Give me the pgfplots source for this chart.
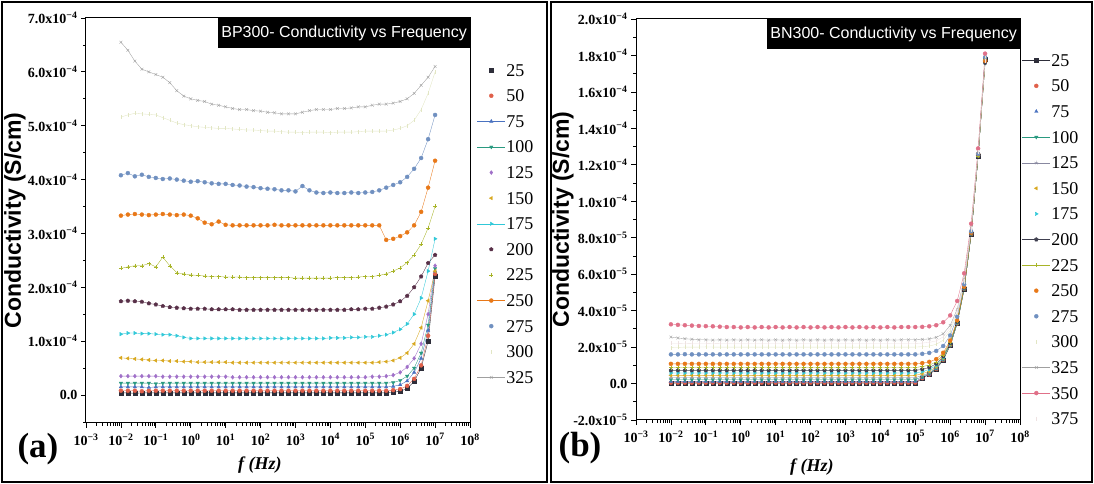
\documentclass[border=0pt]{standalone}
\usepackage{fontspec}
\setmainfont{Liberation Serif}
\newfontfamily\arial{Liberation Sans}
\usepackage{pgfplots}
\usepackage{pgfplotstable}
\pgfplotsset{compat=1.18}

% series colours
\definecolor{c25}{HTML}{2E2E3A}
\definecolor{c50}{HTML}{E0604A}
\definecolor{c75}{HTML}{4A72C0}
\definecolor{c100}{HTML}{2A9A80}
\definecolor{c125}{HTML}{A070C8}
\definecolor{cb125}{HTML}{8888A0}
\definecolor{c150}{HTML}{D8A820}
\definecolor{c175}{HTML}{30C8D8}
\definecolor{c200}{HTML}{583048}
\definecolor{cb200}{HTML}{404050}
\definecolor{c225}{HTML}{A8B428}
\definecolor{c250}{HTML}{E87818}
\definecolor{c275}{HTML}{7090C0}
\definecolor{c300}{HTML}{E2E6C4}
\definecolor{c325}{HTML}{A0A0A0}
\definecolor{c350}{HTML}{E07088}
\definecolor{c375}{HTML}{EEE2E2}

% BP300: conductivity in units of 1e-4 S/cm
\pgfplotstableread{
f a25 a50 a75 a100 a125 a150 a175 a200 a225 a250 a275 a300 a325
1e-2 0.04 0.08 0.15 0.22 0.35 0.69 1.13 1.74 2.35 3.33 4.08 5.16 6.55
1.585e-2 0.04 0.08 0.15 0.22 0.35 0.68 1.15 1.75 2.38 3.35 4.12 5.20 6.40
2.512e-2 0.03 0.08 0.15 0.22 0.35 0.67 1.15 1.74 2.40 3.36 4.06 5.23 6.20
3.981e-2 0.04 0.07 0.15 0.22 0.35 0.66 1.14 1.73 2.40 3.35 4.09 5.22 6.05
6.310e-2 0.04 0.08 0.14 0.22 0.35 0.65 1.14 1.70 2.44 3.34 4.05 5.21 6.00
1e-1 0.04 0.08 0.15 0.21 0.35 0.64 1.13 1.68 2.38 3.35 4.03 5.20 5.95
1.585e-1 0.04 0.08 0.15 0.22 0.34 0.64 1.12 1.65 2.56 3.36 4.01 5.15 5.90
2.512e-1 0.04 0.08 0.15 0.22 0.34 0.63 1.12 1.63 2.40 3.35 4.02 5.10 5.80
3.981e-1 0.04 0.08 0.15 0.22 0.34 0.63 1.10 1.62 2.27 3.34 4.00 5.05 5.65
6.310e-1 0.04 0.08 0.15 0.22 0.34 0.62 1.07 1.61 2.25 3.35 3.98 5.02 5.55
1 0.04 0.08 0.15 0.22 0.34 0.62 1.05 1.60 2.23 3.33 3.96 5.00 5.50
1.585 0.04 0.08 0.15 0.22 0.34 0.61 1.05 1.60 2.22 3.28 3.97 4.98 5.47
2.512 0.04 0.08 0.15 0.22 0.34 0.61 1.05 1.60 2.21 3.20 3.95 4.97 5.45
3.981 0.04 0.08 0.15 0.22 0.34 0.61 1.05 1.59 2.20 3.17 3.93 4.96 5.40
6.310 0.04 0.08 0.15 0.22 0.34 0.61 1.05 1.59 2.20 3.22 3.92 4.95 5.38
10 0.04 0.08 0.15 0.22 0.34 0.61 1.05 1.59 2.19 3.16 3.92 4.95 5.35
15.85 0.04 0.08 0.15 0.22 0.33 0.60 1.05 1.59 2.19 3.15 3.90 4.94 5.32
25.12 0.04 0.08 0.15 0.22 0.33 0.60 1.05 1.58 2.19 3.15 3.89 4.93 5.30
39.81 0.04 0.08 0.15 0.22 0.33 0.60 1.05 1.58 2.18 3.15 3.87 4.92 5.30
63.10 0.04 0.08 0.15 0.22 0.33 0.60 1.05 1.58 2.18 3.15 3.86 4.92 5.28
100 0.04 0.08 0.15 0.22 0.33 0.60 1.05 1.58 2.18 3.15 3.84 4.91 5.27
158.5 0.04 0.08 0.15 0.22 0.33 0.60 1.05 1.58 2.18 3.15 3.83 4.90 5.25
251.2 0.04 0.08 0.15 0.22 0.33 0.60 1.05 1.58 2.18 3.16 3.82 4.90 5.24
398.1 0.04 0.08 0.15 0.22 0.33 0.60 1.05 1.58 2.18 3.15 3.80 4.89 5.22
631.0 0.04 0.08 0.15 0.22 0.33 0.60 1.05 1.58 2.18 3.15 3.80 4.88 5.22
1000 0.04 0.08 0.15 0.22 0.33 0.60 1.05 1.58 2.17 3.15 3.78 4.88 5.22
1585 0.04 0.08 0.15 0.22 0.33 0.60 1.05 1.58 2.17 3.15 3.88 4.87 5.25
2512 0.04 0.08 0.15 0.22 0.33 0.60 1.05 1.58 2.17 3.15 3.80 4.88 5.28
3981 0.04 0.08 0.15 0.22 0.33 0.60 1.05 1.58 2.17 3.15 3.76 4.88 5.30
6310 0.04 0.08 0.15 0.22 0.33 0.60 1.05 1.58 2.17 3.15 3.75 4.88 5.30
10000 0.04 0.08 0.15 0.22 0.33 0.60 1.06 1.58 2.17 3.15 3.76 4.87 5.30
15849 0.04 0.08 0.15 0.22 0.33 0.60 1.06 1.58 2.18 3.15 3.75 4.88 5.32
25119 0.04 0.08 0.15 0.22 0.33 0.60 1.06 1.58 2.18 3.15 3.75 4.88 5.32
39811 0.04 0.08 0.15 0.22 0.33 0.60 1.07 1.59 2.18 3.15 3.76 4.88 5.33
63096 0.04 0.08 0.15 0.22 0.33 0.60 1.07 1.59 2.19 3.15 3.75 4.89 5.35
1e5 0.04 0.08 0.15 0.22 0.33 0.60 1.08 1.60 2.20 3.15 3.76 4.90 5.35
1.585e5 0.04 0.08 0.15 0.22 0.34 0.60 1.08 1.60 2.20 3.15 3.77 4.90 5.38
2.512e5 0.04 0.08 0.15 0.22 0.34 0.61 1.10 1.62 2.22 3.15 3.80 4.90 5.40
3.981e5 0.04 0.08 0.15 0.22 0.35 0.62 1.12 1.64 2.25 2.88 3.85 4.90 5.40
6.310e5 0.05 0.09 0.16 0.23 0.37 0.64 1.16 1.68 2.30 2.90 3.90 4.92 5.42
1e6 0.07 0.11 0.19 0.27 0.42 0.69 1.22 1.74 2.36 2.95 3.95 4.95 5.45
1.585e6 0.12 0.17 0.26 0.35 0.52 0.78 1.32 1.84 2.46 3.02 4.05 5.00 5.50
2.512e6 0.25 0.30 0.42 0.50 0.68 0.95 1.50 2.00 2.60 3.15 4.20 5.10 5.60
3.981e6 0.50 0.55 0.68 0.78 0.95 1.25 1.80 2.20 2.80 3.40 4.40 5.30 5.75
6.310e6 1.00 1.10 1.20 1.30 1.50 1.75 2.30 2.45 3.10 3.85 4.75 5.60 5.90
1e7 2.20 2.25 2.30 2.35 2.40 2.30 2.90 2.60 3.50 4.35 5.20 6.00 6.10
}\tabA

% BN300: conductivity in units of 1e-5 S/cm
\pgfplotstableread{
f b25 b50 b75 b100 b125 b150 b175 b200 b225 b250 b275 b300 b325 b350 b375
1e-2 0.00 0.05 0.12 0.22 0.32 0.45 0.58 0.72 0.88 1.08 1.60 1.97 2.55 3.25 2.20
1.585e-2 0.00 0.05 0.12 0.22 0.32 0.45 0.58 0.72 0.88 1.08 1.60 1.98 2.50 3.22 2.20
2.512e-2 0.00 0.05 0.12 0.22 0.32 0.45 0.58 0.72 0.88 1.08 1.61 2.00 2.46 3.20 2.21
3.981e-2 0.00 0.05 0.12 0.22 0.32 0.45 0.58 0.72 0.88 1.08 1.60 2.00 2.43 3.18 2.20
6.310e-2 0.00 0.05 0.12 0.22 0.32 0.45 0.58 0.72 0.88 1.08 1.60 2.00 2.40 3.16 2.20
1e-1 0.00 0.05 0.12 0.22 0.32 0.45 0.58 0.72 0.88 1.08 1.60 2.01 2.40 3.15 2.20
1.585e-1 0.00 0.05 0.12 0.22 0.32 0.45 0.58 0.72 0.88 1.08 1.60 2.00 2.38 3.14 2.21
2.512e-1 0.00 0.05 0.12 0.22 0.32 0.45 0.58 0.72 0.88 1.08 1.60 2.00 2.40 3.12 2.20
3.981e-1 0.00 0.05 0.12 0.22 0.32 0.45 0.58 0.72 0.88 1.08 1.60 2.00 2.38 3.10 2.20
6.310e-1 0.00 0.05 0.12 0.22 0.32 0.45 0.58 0.72 0.88 1.08 1.60 2.00 2.40 3.10 2.20
1 0.00 0.05 0.12 0.22 0.32 0.45 0.58 0.72 0.88 1.08 1.60 2.00 2.38 3.08 2.20
1.585 0.00 0.05 0.12 0.22 0.32 0.45 0.58 0.72 0.88 1.08 1.60 2.00 2.40 3.10 2.20
2.512 0.00 0.05 0.12 0.22 0.32 0.45 0.58 0.72 0.88 1.08 1.60 2.00 2.38 3.08 2.20
3.981 0.00 0.05 0.12 0.22 0.32 0.45 0.58 0.72 0.88 1.08 1.60 2.00 2.40 3.10 2.20
6.310 0.00 0.05 0.12 0.22 0.32 0.45 0.58 0.72 0.88 1.08 1.60 2.00 2.38 3.08 2.20
10 0.00 0.05 0.12 0.22 0.32 0.45 0.58 0.72 0.88 1.08 1.60 2.00 2.40 3.10 2.20
15.85 0.00 0.05 0.12 0.22 0.32 0.45 0.58 0.72 0.88 1.08 1.60 2.00 2.38 3.08 2.20
25.12 0.00 0.05 0.12 0.22 0.32 0.45 0.58 0.72 0.88 1.08 1.60 2.00 2.40 3.10 2.20
39.81 0.00 0.05 0.12 0.22 0.32 0.45 0.58 0.72 0.88 1.08 1.60 2.00 2.38 3.08 2.20
63.10 0.00 0.05 0.12 0.22 0.32 0.45 0.58 0.72 0.88 1.08 1.60 2.00 2.40 3.10 2.20
100 0.00 0.05 0.12 0.22 0.32 0.45 0.58 0.72 0.88 1.08 1.60 2.00 2.38 3.08 2.20
158.5 0.00 0.05 0.12 0.22 0.32 0.45 0.58 0.72 0.88 1.08 1.60 2.00 2.40 3.10 2.20
251.2 0.00 0.05 0.12 0.22 0.32 0.45 0.58 0.72 0.88 1.08 1.60 2.00 2.38 3.08 2.20
398.1 0.00 0.05 0.12 0.22 0.32 0.45 0.58 0.72 0.88 1.08 1.60 2.00 2.40 3.10 2.20
631.0 0.00 0.05 0.12 0.22 0.32 0.45 0.58 0.72 0.88 1.08 1.60 2.00 2.38 3.08 2.20
1000 0.00 0.05 0.12 0.22 0.32 0.45 0.58 0.72 0.88 1.08 1.60 2.00 2.40 3.10 2.20
1585 0.00 0.05 0.12 0.22 0.32 0.45 0.58 0.72 0.88 1.08 1.60 2.00 2.38 3.08 2.20
2512 0.00 0.05 0.12 0.22 0.32 0.45 0.58 0.72 0.88 1.08 1.60 2.00 2.40 3.10 2.20
3981 0.00 0.05 0.12 0.22 0.32 0.45 0.58 0.72 0.88 1.08 1.60 2.00 2.38 3.08 2.20
6310 0.00 0.05 0.12 0.22 0.32 0.45 0.58 0.72 0.88 1.08 1.60 2.00 2.40 3.10 2.20
10000 0.00 0.05 0.12 0.22 0.32 0.45 0.58 0.72 0.88 1.08 1.60 2.00 2.38 3.08 2.20
15849 0.00 0.05 0.12 0.22 0.32 0.45 0.58 0.72 0.88 1.08 1.60 2.00 2.40 3.10 2.20
25119 0.00 0.05 0.12 0.22 0.32 0.45 0.58 0.72 0.88 1.08 1.60 2.00 2.38 3.08 2.20
39811 0.00 0.05 0.12 0.22 0.32 0.45 0.58 0.72 0.88 1.08 1.60 2.00 2.40 3.10 2.20
63096 0.00 0.05 0.12 0.22 0.32 0.45 0.58 0.72 0.88 1.08 1.60 2.00 2.40 3.10 2.20
1e5 0.00 0.05 0.12 0.22 0.32 0.45 0.58 0.72 0.88 1.08 1.60 2.00 2.40 3.10 2.20
1.585e5 0.30 0.30 0.32 0.37 0.44 0.54 0.65 0.78 0.93 1.12 1.63 2.02 2.42 3.11 2.22
2.512e5 0.50 0.50 0.51 0.55 0.59 0.67 0.77 0.88 1.01 1.19 1.68 2.06 2.45 3.14 2.26
3.981e5 0.80 0.80 0.81 0.83 0.86 0.92 0.99 1.08 1.19 1.34 1.79 2.15 2.53 3.20 2.34
6.310e5 1.30 1.30 1.31 1.32 1.34 1.38 1.42 1.49 1.57 1.69 2.06 2.38 2.73 3.36 2.56
1e6 2.10 2.10 2.10 2.11 2.12 2.15 2.18 2.22 2.28 2.36 2.64 2.90 3.19 3.74 3.04
1.585e6 3.30 3.30 3.30 3.31 3.32 3.33 3.35 3.38 3.42 3.47 3.67 3.86 4.08 4.53 3.97
2.512e6 5.20 5.20 5.20 5.20 5.21 5.22 5.23 5.25 5.27 5.31 5.44 5.57 5.73 6.05 5.65
3.981e6 8.20 8.20 8.20 8.20 8.21 8.21 8.22 8.23 8.25 8.27 8.35 8.44 8.54 8.77 8.49
6.310e6 12.5 12.5 12.5 12.5 12.5 12.5 12.5 12.5 12.5 12.6 12.6 12.7 12.7 12.9 12.7
1e7 17.8 17.7 17.8 17.6 17.9 17.7 17.8 17.6 17.8 17.7 17.9 17.9 17.8 18.1 17.7
}\tabB

% marker styles of the temperature series
\tikzset{
  s25/.style={color=c25, mark=square*, mark options={solid, fill=c25}},
  s50/.style={color=c50, mark=*, mark options={solid, fill=c50}},
  s75/.style={color=c75, mark=triangle*, mark options={solid, fill=c75}},
  s100/.style={color=c100, mark=triangle*, mark options={solid, fill=c100, rotate=180}},
  s125/.style={color=c125, mark=diamond*, mark options={solid, fill=c125}},
  sb125/.style={color=cb125, mark=star, mark options={solid}},
  s150/.style={color=c150, mark=triangle*, mark options={solid, fill=c150, rotate=90}},
  s175/.style={color=c175, mark=triangle*, mark options={solid, fill=c175, rotate=-90}},
  s200/.style={color=c200, mark=pentagon*, mark options={solid, fill=c200}},
  sb200/.style={color=cb200, mark=pentagon*, mark options={solid, fill=cb200}},
  s225/.style={color=c225, mark=+, mark options={solid}},
  s250/.style={color=c250, mark=*, mark options={solid, fill=c250}},
  s275/.style={color=c275, mark=*, mark options={solid, fill=c275}},
  s300/.style={color=c300, mark=|, mark options={solid}},
  s325/.style={color=c325, mark=x, mark options={solid}},
  s350/.style={color=c350, mark=*, mark options={solid, fill=c350}},
  s375/.style={color=c375, mark=|, mark options={solid}},
}
% tick label text in bold serif, boxed so it is always set in text mode
\newcommand{\tl}[1]{\mbox{\bfseries\fontsize{14}{16}\selectfont #1}}

\begin{document}
\begin{tikzpicture}
\useasboundingbox (0pt,0pt) rectangle (1094pt,484pt);
\draw[line width=1.5pt] (2pt,2pt) rectangle (547pt,482pt);
\draw[line width=1.5pt] (551pt,2pt) rectangle (1092pt,482pt);

% ---------- (a) BP300 ----------
\begin{axis}[
  scale only axis, xmode=log, xmin=1e-3, xmax=1e8,
  xtick={1e-3,1e-2,1e-1,1,10,100,1e3,1e4,1e5,1e6,1e7,1e8},
  xticklabels={\tl{10\textsuperscript{−3}},\tl{10\textsuperscript{−2}},\tl{10\textsuperscript{−1}},\tl{10\textsuperscript{0}},\tl{10\textsuperscript{1}},\tl{10\textsuperscript{2}},\tl{10\textsuperscript{3}},\tl{10\textsuperscript{4}},\tl{10\textsuperscript{5}},\tl{10\textsuperscript{6}},\tl{10\textsuperscript{7}},\tl{10\textsuperscript{8}}},
  minor xtick={2e-3,3e-3,4e-3,5e-3,6e-3,7e-3,8e-3,9e-3,2e-2,3e-2,4e-2,5e-2,6e-2,7e-2,8e-2,9e-2,2e-1,3e-1,4e-1,5e-1,6e-1,7e-1,8e-1,9e-1,2,3,4,5,6,7,8,9,20,30,40,50,60,70,80,90,200,300,400,500,600,700,800,900,2e3,3e3,4e3,5e3,6e3,7e3,8e3,9e3,2e4,3e4,4e4,5e4,6e4,7e4,8e4,9e4,2e5,3e5,4e5,5e5,6e5,7e5,8e5,9e5,2e6,3e6,4e6,5e6,6e6,7e6,8e6,9e6,2e7,3e7,4e7,5e7,6e7,7e7,8e7,9e7},
  axis line style={line width=1pt},
  tick align=outside, xtick pos=bottom, ytick pos=left,
  major tick length=5pt, minor tick length=3pt,
  tick style={line width=0.8pt, black},
  xticklabel style={yshift=-2pt},
  every axis plot/.append style={line width=0.35pt, mark size=2pt},
  legend cell align=left,
  legend image code/.code={\draw[mark repeat=2,mark phase=2] plot coordinates {(0pt,0pt)(14pt,0pt)(28pt,0pt)};},
  legend style={draw=none, fill=none, inner sep=0pt, row sep=11.6pt,
    font=\fontsize{18}{20}\selectfont,
    nodes={inner sep=1pt, text height=12pt, text depth=0pt},
    at={(1.018,0.889)}, anchor=north west},
  xlabel style={font=\bfseries\itshape\fontsize{18}{20}\selectfont, anchor=center, at={(axis description cs:0.453,-0.104)}},
  ylabel style={font=\arial\bfseries\fontsize{23}{25}\selectfont, anchor=center, at={(axis description cs:-0.185,0.5)}},
  at={(86pt,61pt)}, anchor=south west, width=384pt, height=405pt,
  ymin=-0.52, ymax=7,
  ytick={0,1,2,3,4,5,6,7},
  yticklabels={\tl{0.0},\tl{1.0x10\textsuperscript{−4}},\tl{2.0x10\textsuperscript{−4}},\tl{3.0x10\textsuperscript{−4}},\tl{4.0x10\textsuperscript{−4}},\tl{5.0x10\textsuperscript{−4}},\tl{6.0x10\textsuperscript{−4}},\tl{7.0x10\textsuperscript{−4}}},
  minor ytick={-0.5,0.5,1.5,2.5,3.5,4.5,5.5,6.5},
  xlabel={f (Hz)},
  ylabel={Conductivity (S/cm)},
]
\addplot[s25, forget plot] table[x=f,y=a25] {\tabA};
\addplot[s50, forget plot] table[x=f,y=a50] {\tabA};
\addplot[s75, forget plot] table[x=f,y=a75] {\tabA};
\addplot[s100, forget plot] table[x=f,y=a100] {\tabA};
\addplot[s125, forget plot] table[x=f,y=a125] {\tabA};
\addplot[s150, forget plot] table[x=f,y=a150] {\tabA};
\addplot[s175, forget plot] table[x=f,y=a175] {\tabA};
\addplot[s200, forget plot] table[x=f,y=a200] {\tabA};
\addplot[s225, forget plot] table[x=f,y=a225] {\tabA};
\addplot[s250, forget plot] table[x=f,y=a250] {\tabA};
\addplot[s275, forget plot] table[x=f,y=a275] {\tabA};
\addplot[s300, forget plot] table[x=f,y=a300] {\tabA};
\addplot[s325, forget plot] table[x=f,y=a325] {\tabA};
\addlegendimage{s25, only marks}\addlegendentry{25}
\addlegendimage{s50, only marks}\addlegendentry{50}
\addlegendimage{s75}\addlegendentry{75}
\addlegendimage{s100}\addlegendentry{100}
\addlegendimage{s125, only marks}\addlegendentry{125}
\addlegendimage{s150, only marks}\addlegendentry{150}
\addlegendimage{s175}\addlegendentry{175}
\addlegendimage{s200, only marks}\addlegendentry{200}
\addlegendimage{s225, only marks}\addlegendentry{225}
\addlegendimage{s250}\addlegendentry{250}
\addlegendimage{s275, only marks}\addlegendentry{275}
\addlegendimage{s300, only marks}\addlegendentry{300}
\addlegendimage{s325}\addlegendentry{325}
\node[anchor=north east, fill=black, text=white, inner xsep=3pt, minimum height=30pt,
  font=\arial\fontsize{16}{18}\selectfont] at (rel axis cs:1,1) {BP300- Conductivity vs Frequency};
\end{axis}
\node[font=\bfseries\fontsize{35}{38}\selectfont] at (38pt,35pt) {(a)};

% ---------- (b) BN300 ----------
\begin{axis}[
  scale only axis, xmode=log, xmin=1e-3, xmax=1e8,
  xtick={1e-3,1e-2,1e-1,1,10,100,1e3,1e4,1e5,1e6,1e7,1e8},
  xticklabels={\tl{10\textsuperscript{−3}},\tl{10\textsuperscript{−2}},\tl{10\textsuperscript{−1}},\tl{10\textsuperscript{0}},\tl{10\textsuperscript{1}},\tl{10\textsuperscript{2}},\tl{10\textsuperscript{3}},\tl{10\textsuperscript{4}},\tl{10\textsuperscript{5}},\tl{10\textsuperscript{6}},\tl{10\textsuperscript{7}},\tl{10\textsuperscript{8}}},
  minor xtick={2e-3,3e-3,4e-3,5e-3,6e-3,7e-3,8e-3,9e-3,2e-2,3e-2,4e-2,5e-2,6e-2,7e-2,8e-2,9e-2,2e-1,3e-1,4e-1,5e-1,6e-1,7e-1,8e-1,9e-1,2,3,4,5,6,7,8,9,20,30,40,50,60,70,80,90,200,300,400,500,600,700,800,900,2e3,3e3,4e3,5e3,6e3,7e3,8e3,9e3,2e4,3e4,4e4,5e4,6e4,7e4,8e4,9e4,2e5,3e5,4e5,5e5,6e5,7e5,8e5,9e5,2e6,3e6,4e6,5e6,6e6,7e6,8e6,9e6,2e7,3e7,4e7,5e7,6e7,7e7,8e7,9e7},
  axis line style={line width=1pt},
  tick align=outside, xtick pos=bottom, ytick pos=left,
  major tick length=5pt, minor tick length=3pt,
  tick style={line width=0.8pt, black},
  xticklabel style={yshift=-2pt},
  every axis plot/.append style={line width=0.35pt, mark size=2pt},
  legend cell align=left,
  legend image code/.code={\draw[mark repeat=2,mark phase=2] plot coordinates {(0pt,0pt)(14pt,0pt)(28pt,0pt)};},
  legend style={draw=none, fill=none, inner sep=0pt, row sep=11.6pt,
    font=\fontsize{18}{20}\selectfont,
    nodes={inner sep=1pt, text height=12pt, text depth=0pt},
    at={(1.005,0.915)}, anchor=north west},
  xlabel style={font=\bfseries\itshape\fontsize{18}{20}\selectfont, anchor=center, at={(axis description cs:0.458,-0.117)}},
  ylabel style={font=\arial\bfseries\fontsize{23}{25}\selectfont, anchor=center, at={(axis description cs:-0.19,0.5)}},
  at={(636pt,64pt)}, anchor=south west, width=384pt, height=401pt,
  ymin=-2, ymax=20,
  ytick={-2,0,2,4,6,8,10,12,14,16,18,20},
  yticklabels={\tl{-2.0x10\textsuperscript{−5}},\tl{0.0},\tl{2.0x10\textsuperscript{−5}},\tl{4.0x10\textsuperscript{−5}},\tl{6.0x10\textsuperscript{−5}},\tl{8.0x10\textsuperscript{−5}},\tl{1.0x10\textsuperscript{−4}},\tl{1.2x10\textsuperscript{−4}},\tl{1.4x10\textsuperscript{−4}},\tl{1.6x10\textsuperscript{−4}},\tl{1.8x10\textsuperscript{−4}},\tl{2.0x10\textsuperscript{−4}}},
  minor ytick={-1,1,3,5,7,9,11,13,15,17,19},
  xlabel={f (Hz)},
  ylabel={Conductivity (S/cm)},
]
\addplot[s25, forget plot] table[x=f,y=b25] {\tabB};
\addplot[s50, forget plot] table[x=f,y=b50] {\tabB};
\addplot[s75, forget plot] table[x=f,y=b75] {\tabB};
\addplot[s100, forget plot] table[x=f,y=b100] {\tabB};
\addplot[sb125, forget plot] table[x=f,y=b125] {\tabB};
\addplot[s150, forget plot] table[x=f,y=b150] {\tabB};
\addplot[s175, forget plot] table[x=f,y=b175] {\tabB};
\addplot[sb200, forget plot] table[x=f,y=b200] {\tabB};
\addplot[s225, forget plot] table[x=f,y=b225] {\tabB};
\addplot[s250, forget plot] table[x=f,y=b250] {\tabB};
\addplot[s275, forget plot] table[x=f,y=b275] {\tabB};
\addplot[s300, forget plot] table[x=f,y=b300] {\tabB};
\addplot[s325, forget plot] table[x=f,y=b325] {\tabB};
\addplot[s350, forget plot] table[x=f,y=b350] {\tabB};
\addplot[s375, forget plot] table[x=f,y=b375] {\tabB};
\addlegendimage{s25}\addlegendentry{25}
\addlegendimage{s50, only marks}\addlegendentry{50}
\addlegendimage{s75, only marks}\addlegendentry{75}
\addlegendimage{s100}\addlegendentry{100}
\addlegendimage{sb125}\addlegendentry{125}
\addlegendimage{s150, only marks}\addlegendentry{150}
\addlegendimage{s175, only marks}\addlegendentry{175}
\addlegendimage{sb200}\addlegendentry{200}
\addlegendimage{s225}\addlegendentry{225}
\addlegendimage{s250, only marks}\addlegendentry{250}
\addlegendimage{s275, only marks}\addlegendentry{275}
\addlegendimage{s300, only marks}\addlegendentry{300}
\addlegendimage{s325}\addlegendentry{325}
\addlegendimage{s350}\addlegendentry{350}
\addlegendimage{s375, only marks}\addlegendentry{375}
\node[anchor=north east, fill=black, text=white, inner xsep=3pt, minimum height=30pt,
  font=\arial\fontsize{16}{18}\selectfont] at (rel axis cs:1,1) {BN300- Conductivity vs Frequency};
\end{axis}
\node[font=\bfseries\fontsize{35}{38}\selectfont] at (580pt,36pt) {(b)};
\end{tikzpicture}
\end{document}
